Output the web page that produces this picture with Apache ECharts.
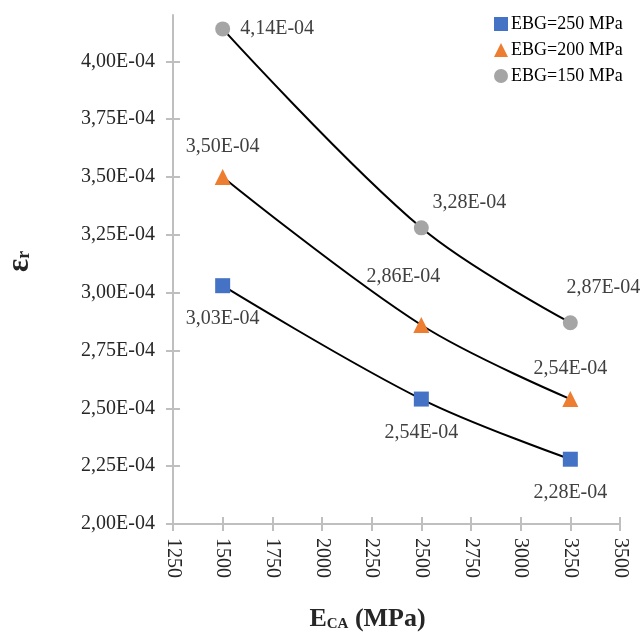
<!DOCTYPE html>
<html>
<head>
<meta charset="utf-8">
<script src="https://cdn.jsdelivr.net/npm/echarts@6/dist/echarts.min.js"></script>
<style>
  html, body { margin: 0; padding: 0; background: #fff; }
  #chart { width: 643px; height: 633px; }
</style>
</head>
<body>
<div id="chart"></div>
<script>
// data
const eca = [1500, 2500, 3250];
const eps250 = [3.03e-4, 2.54e-4, 2.28e-4];
const eps200 = [3.50e-4, 2.86e-4, 2.54e-4];
const eps150 = [4.14e-4, 3.28e-4, 2.87e-4];
const yTicks = [2.0e-4, 2.25e-4, 2.5e-4, 2.75e-4, 3.0e-4, 3.25e-4, 3.5e-4, 3.75e-4, 4.0e-4];
const seriesNames = ["EBG=250 MPa", "EBG=200 MPa", "EBG=150 MPa"];

const FONT = "'Liberation Serif', 'Times New Roman', serif";

// 3,03E-04 style
function sci(v) {
  const [m, e] = v.toExponential(2).split("e");
  const n = parseInt(e, 10);
  const ee = (n < 0 ? "-" : "+") + String(Math.abs(n)).padStart(2, "0");
  return m.replace(".", ",") + "E" + ee;
}

// label placement per point (style only)
const labels250 = [
  { position: "bottom", distance: 16 },
  { position: "bottom", distance: 16 },
  { position: "bottom", distance: 16 }
];
const labels200 = [
  { position: "top", distance: 12 },
  { position: "top", distance: 12, offset: [-18, -18] },
  { position: "top", distance: 12 }
];
const labels150 = [
  { position: "right", distance: 10 },
  { position: "top", distance: 12, offset: [48, 4] },
  { position: "top", distance: 12, offset: [33, -5] }
];

function points(ys, lbls) {
  return eca.map((x, i) => ({ value: [x, ys[i]], label: lbls[i] }));
}

function lineSeries(name, ys, lbls, color, symbol, size) {
  return {
    name: name,
    type: "line",
    smooth: 0.35,
    symbol: symbol,
    symbolSize: size,
    showAllSymbol: true,
    data: points(ys, lbls),
    itemStyle: { color: color },
    lineStyle: { color: "#000", width: 2 },
    label: {
      show: true,
      formatter: (p) => sci(p.value[1]),
      fontFamily: FONT,
      fontSize: 20,
      color: "#404040"
    },
    emphasis: { disabled: true },
    z: 3
  };
}

const axisGray = "#bfbfbf";

const chart = echarts.init(document.getElementById("chart"));
chart.setOption({
  animation: false,
  backgroundColor: "#fff",
  textStyle: { fontFamily: FONT },
  grid: { left: 173, right: 23, top: 15, bottom: 109, outerBoundsMode: "none", containLabel: false },
  legend: {
    orient: "vertical",
    left: 489,
    top: 10,
    itemWidth: 14,
    itemHeight: 14,
    itemGap: 8,
    data: [
      { name: seriesNames[0], icon: "rect" },
      { name: seriesNames[1], icon: "triangle" },
      { name: seriesNames[2], icon: "circle" }
    ],
    itemStyle: { borderWidth: 0 },
    textStyle: { fontFamily: FONT, fontSize: 18, color: "#000", padding: [0, 0, 0, -2] }
  },
  xAxis: [
    {
      type: "value",
      min: 1250,
      max: 3500,
      interval: 250,
      splitLine: { show: false },
      axisLine: { lineStyle: { color: axisGray, width: 2 } },
      axisTick: { length: 7, lineStyle: { color: axisGray, width: 2 } },
      axisLabel: {
        rotate: -90,
        margin: 14,
        fontFamily: FONT,
        fontSize: 20,
        color: "#262626",
        formatter: (v) => String(v)
      },
      name: "{b|E}{s|CA}{b| (MPa)}",
      nameLocation: "middle",
      nameGap: 82,
      nameTextStyle: {
        padding: [0, 58, 0, 0],
        rich: {
          b: { fontFamily: FONT, fontSize: 26, fontWeight: "bold", color: "#262626" },
          s: { fontFamily: FONT, fontSize: 15, fontWeight: "bold", color: "#262626", padding: [10, 0, 0, 0] }
        }
      }
    },
    {
      type: "value",
      min: 1250,
      max: 3500,
      interval: 250,
      position: "bottom",
      splitLine: { show: false },
      axisLine: { show: false },
      axisTick: { inside: true, length: 7, lineStyle: { color: axisGray, width: 2 } },
      axisLabel: { show: false }
    }
  ],
  yAxis: [
    {
      type: "value",
      min: 2.0e-4,
      max: 4.2e-4,
      splitLine: { show: false },
      axisLine: { show: true, lineStyle: { color: axisGray, width: 2 } },
      axisTick: { show: true, length: 7, customValues: yTicks, lineStyle: { color: axisGray, width: 2 } },
      axisLabel: {
        customValues: yTicks,
        margin: 18,
        fontFamily: FONT,
        fontSize: 20,
        color: "#262626",
        formatter: (v) => sci(v)
      },
      name: "{b|ε}{s|r}",
      nameLocation: "middle",
      nameRotate: 90,
      nameGap: 138,
      nameTextStyle: {
        padding: [0, 0, 0, 16],
        rich: {
          b: { fontFamily: FONT, fontSize: 31, fontWeight: "bold", color: "#262626" },
          s: { fontFamily: FONT, fontSize: 18, fontWeight: "bold", color: "#262626", padding: [10, 0, 0, 0] }
        }
      }
    },
    {
      type: "value",
      min: 2.0e-4,
      max: 4.2e-4,
      position: "left",
      splitLine: { show: false },
      axisLine: { show: false },
      axisTick: { show: true, inside: true, length: 7, customValues: yTicks, lineStyle: { color: axisGray, width: 2 } },
      axisLabel: { show: false }
    }
  ],
  series: [
    lineSeries(seriesNames[0], eps250, labels250, "#4472C4", "rect", 15),
    lineSeries(seriesNames[1], eps200, labels200, "#ED7D31", "triangle", 16),
    lineSeries(seriesNames[2], eps150, labels150, "#A5A5A5", "circle", 15)
  ]
});
</script>
</body>
</html>
